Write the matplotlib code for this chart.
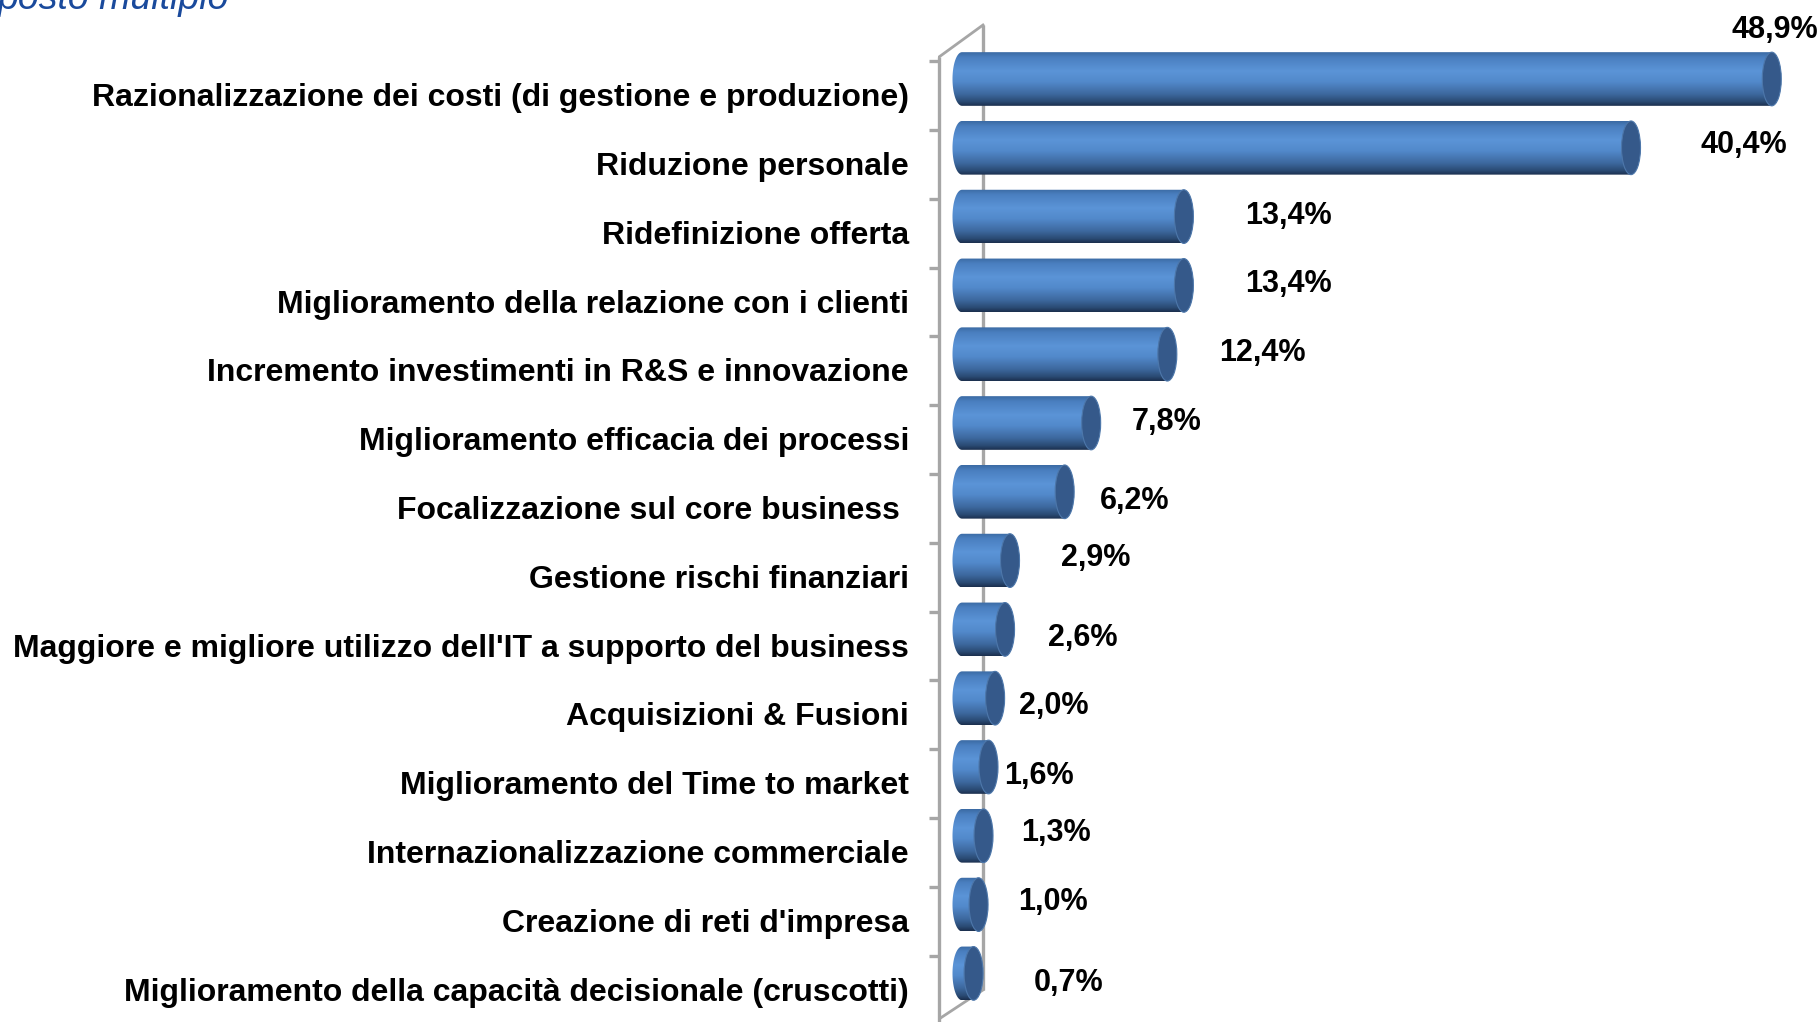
import numpy as np
import matplotlib
matplotlib.use("Agg")
import matplotlib.pyplot as plt
from matplotlib.colors import LinearSegmentedColormap
from matplotlib.patches import Ellipse, PathPatch
from matplotlib.path import Path

# ---------------- data ----------------
categories = [
    "Razionalizzazione dei costi (di gestione e produzione)",
    "Riduzione personale",
    "Ridefinizione offerta",
    "Miglioramento della relazione con i clienti",
    "Incremento investimenti in R&S e innovazione",
    "Miglioramento efficacia dei processi",
    "Focalizzazione sul core business ",
    "Gestione rischi finanziari",
    "Maggiore e migliore utilizzo dell'IT a supporto del business",
    "Acquisizioni & Fusioni",
    "Miglioramento del Time to market",
    "Internazionalizzazione commerciale",
    "Creazione di reti d'impresa",
    "Miglioramento della capacità decisionale (cruscotti)",
]
values = [48.9, 40.4, 13.4, 13.4, 12.4, 7.8, 6.2, 2.9, 2.6, 2.0, 1.6, 1.3, 1.0, 0.7]
title_text = "posto multiplo"

# label placement (pixels relative to bar end), Excel-like irregular offsets
label_dx = [-40, 69, 61, 61, 52, 41, 35, 51, 43, 24, 16, 38, 40, 60]
label_dy = [-49, -3, -1, -1, -1, -1, 9, -3, 9, 8, 9, -3, -3, 10]

# ---------------- figure ----------------
W, H, DPI = 1820, 1022, 100
fig = plt.figure(figsize=(W / DPI, H / DPI), dpi=DPI)
fig.patch.set_facecolor("white")

x0_px = 962.0          # data x = 0
px_per_unit = 16.56
y0_px = 79.0           # centre of first bar
row_px = 68.8
ax_left_px = 938.0

ax = fig.add_axes([ax_left_px / W, 0, 1 - ax_left_px / W, 1])
ax.set_axis_off()
xmin = (ax_left_px - x0_px) / px_per_unit
xmax = (W - x0_px) / px_per_unit
ytop = -y0_px / row_px
ybot = (H - y0_px) / row_px

FONT = "Liberation Sans"
axis_col = "#a6a6a6"

# 3D frame lines
front_x = xmin + 0.06
back_x = (983 - x0_px) / px_per_unit
ax.plot([front_x, front_x], [(57 - y0_px) / row_px, ybot + 0.1], color=axis_col, lw=2.4,
        zorder=3, solid_capstyle="butt", clip_on=False)
ax.plot([back_x, back_x], [(25 - y0_px) / row_px, (990 - y0_px) / row_px], color=axis_col,
        lw=2.4, zorder=1, solid_capstyle="butt")
ax.plot([front_x, back_x], [(57 - y0_px) / row_px, (25 - y0_px) / row_px], color=axis_col,
        lw=2.0, zorder=1)
ax.plot([back_x, front_x], [(990 - y0_px) / row_px, (1019 - y0_px) / row_px], color=axis_col,
        lw=2.0, zorder=1)
tick_len = 10 / px_per_unit
for k in range(len(categories)):
    yt = k - 0.26
    ax.plot([front_x - tick_len, front_x], [yt, yt], color=axis_col, lw=2.4, zorder=3,
            solid_capstyle="butt", clip_on=False)

# cylinder bars
cmap = LinearSegmentedColormap.from_list("cyl", [
    (0.00, "#3a6aa3"),
    (0.10, "#4a7fc0"),
    (0.35, "#5b94d7"),
    (0.55, "#5289cb"),
    (0.78, "#3d689e"),
    (0.92, "#2a4a73"),
    (1.00, "#1b2f4d"),
])
grad = np.linspace(0, 1, 256).reshape(-1, 1)
h = 0.78
rx = 9.5 / px_per_unit
cap_col = "#35598a"

for i, v in enumerate(values):
    top, bot = i - h / 2, i + h / 2
    theta = np.linspace(np.pi / 2, 3 * np.pi / 2, 40)
    arc = np.column_stack([rx * np.cos(theta), i - (h / 2) * np.sin(theta)])
    verts = [(0, top), (v, top), (v, bot), (0, bot)]
    arc_pts = arc[::-1]
    verts = verts + [tuple(p) for p in arc_pts] + [(0, top)]
    codes = [Path.MOVETO] + [Path.LINETO] * (len(verts) - 2) + [Path.CLOSEPOLY]
    patch = PathPatch(Path(verts, codes), facecolor="none", edgecolor="none",
                      transform=ax.transData)
    ax.add_patch(patch)
    im = ax.imshow(grad, cmap=cmap, aspect="auto", extent=[-rx, v, bot, top],
                   origin="upper", zorder=2, interpolation="bilinear")
    im.set_clip_path(patch)
    cap = Ellipse((v, i), 2 * rx, h, facecolor=cap_col, edgecolor="#4d77aa", lw=0.8, zorder=2.5)
    ax.add_patch(cap)

    lbl = f"{v:.1f}%".replace(".", ",")
    ax.annotate(lbl, xy=(v, i), xytext=(label_dx[i], -label_dy[i]), textcoords="offset pixels",
                ha="left", va="center", fontsize=22, fontweight="bold", family=FONT,
                color="black", zorder=5)

    ax.text((909 - x0_px) / px_per_unit, i + 0.28, categories[i], ha="right", va="center",
            fontsize=23, fontweight="bold", family=FONT, color="black", zorder=5)

ax.set_xlim(xmin, xmax)
ax.set_ylim(ybot, ytop)

fig.text(-2 / W, 1 - 9 / H, title_text, ha="left", va="baseline", fontsize=27, style="italic",
         family=FONT, color="#1a4a9c")

fig.savefig("out.png", dpi=DPI)
